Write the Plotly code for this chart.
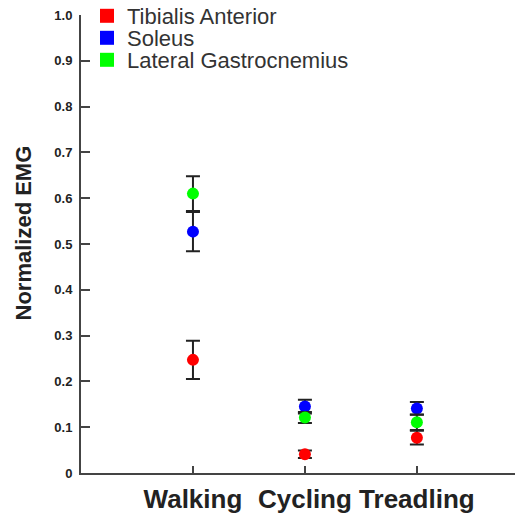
import plotly.graph_objects as go

categories = ["Walking", "Cycling", "Treadling"]
cat_pos = [1, 2, 3]
series_names = ["Tibialis Anterior", "Soleus", "Lateral Gastrocnemius"]
series_colors = ["#ff0000", "#0000ff", "#00ff00"]
tibialis = [0.247, 0.041, 0.077]
tibialis_err = [0.042, 0.008, 0.015]
soleus = [0.527, 0.145, 0.141]
soleus_err = [0.043, 0.015, 0.014]
gastroc = [0.610, 0.121, 0.111]
gastroc_err = [0.038, 0.012, 0.017]
ytick_vals = [0, 0.1, 0.2, 0.3, 0.4, 0.5, 0.6, 0.7, 0.8, 0.9, 1.0]
ytick_text = ["0", "0.1", "0.2", "0.3", "0.4", "0.5", "0.6", "0.7", "0.8", "0.9", "1.0"]

values = [tibialis, soleus, gastroc]
errors = [tibialis_err, soleus_err, gastroc_err]

FONT = "Arial, Liberation Sans, Helvetica, sans-serif"
OFF = 8  # page body margin
W, H = 523 - OFF, 514 - OFF
L, R, T, B = 81 - OFF, 2, 15 - OFF, 41
PW, PH = W - L - R, H - T - B


def px_x(img_x):
    return (img_x - OFF - L) / PW


def px_y(img_y):
    return (H - B - (img_y - OFF)) / PH


fig = go.Figure()
for name, color, v, e in zip(series_names, series_colors, values, errors):
    fig.add_trace(go.Scatter(
        x=cat_pos, y=v, mode="markers", name=name, showlegend=False,
        marker=dict(color=color, size=12, line=dict(width=0)),
        error_y=dict(type="data", array=e, visible=True, color="#222222",
                     thickness=2, width=7),
    ))

legend_ids = ["legend", "legend2", "legend3"]
row_centers_px = [16, 38, 60]
legend_layout = {}
for name, color, lid, py in zip(series_names, series_colors, legend_ids, row_centers_px):
    fig.add_trace(go.Scatter(
        x=[None], y=[None], mode="markers", name=name, showlegend=True, legend=lid,
        marker=dict(color=color, size=14, symbol="square", line=dict(width=0)),
    ))
    legend_layout[lid] = dict(
        x=px_x(87), y=px_y(py), xanchor="left", yanchor="middle",
        bgcolor="rgba(0,0,0,0)", borderwidth=0,
        font=dict(size=22, color="#333333", family=FONT),
        itemsizing="trace", itemwidth=30)

fig.update_layout(
    width=W, height=H,
    margin=dict(l=L, r=R, t=T, b=B, autoexpand=False),
    paper_bgcolor="white", plot_bgcolor="white",
    font=dict(family=FONT, color="#333333"),
    showlegend=True,
    xaxis=dict(range=[0, 3.93], tickvals=cat_pos, ticktext=categories,
               automargin=False,
               showgrid=False, zeroline=False, showline=True,
               linecolor="#444444", linewidth=2, ticks="inside", ticklen=7,
               tickcolor="#444444", tickwidth=2, ticklabelstandoff=2,
               tickfont=dict(size=26, color="#222222", family=FONT, weight="bold")),
    yaxis=dict(range=[0, 1.0], tickvals=ytick_vals, ticktext=ytick_text,
               automargin=False, ticklabeloverflow="allow", ticklabelstandoff=4,
               showgrid=False, zeroline=False, showline=True,
               linecolor="#444444", linewidth=2, ticks="inside", ticklen=9,
               tickcolor="#444444", tickwidth=2,
               tickfont=dict(size=13, color="#222222", family=FONT, weight="bold")),
    annotations=[dict(text="Normalized EMG", textangle=-90, showarrow=False,
                      xref="paper", yref="paper",
                      x=px_x(23), y=px_y(233.5),
                      xanchor="center", yanchor="middle",
                      font=dict(size=22, color="#222222", family=FONT, weight="bold"))],
    **legend_layout,
)
fig.write_html("out.html")
